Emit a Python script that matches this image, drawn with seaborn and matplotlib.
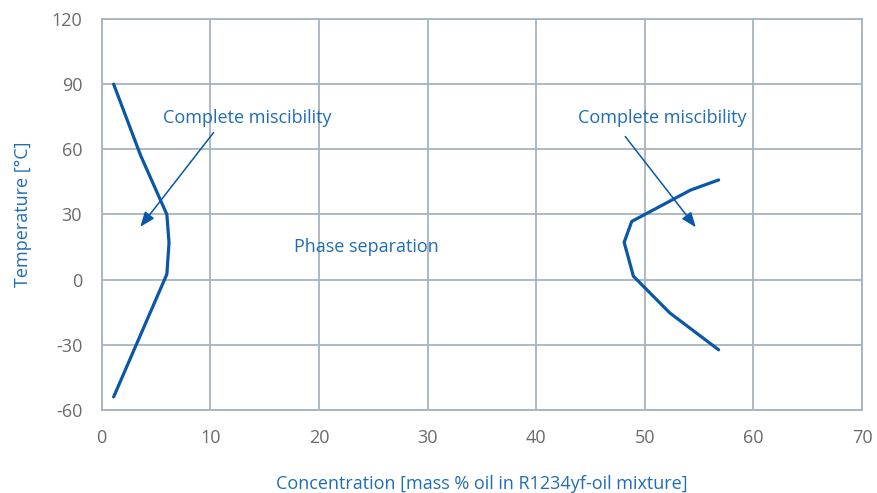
import pandas as pd
import seaborn as sns
import matplotlib.pyplot as plt

# =========================
# DATA
# =========================
left_conc = [1.1, 3.6, 6.0, 6.2, 6.0, 1.1]
left_temp = [90, 57, 30, 17, 2.5, -54]

right_conc = [56.8, 52.3, 48.95, 48.1, 48.8, 54.2, 56.8]
right_temp = [-32.3, -15.3, 1.6, 17.2, 26.8, 41.2, 45.9]

x_ticks = [0, 10, 20, 30, 40, 50, 60, 70]
y_ticks = [-60, -30, 0, 30, 60, 90, 120]

LINE = "#0a57a8"
TEXT = "#1f6db5"
GRID = "#a8b3be"
TICK = "#6b6b6b"

# =========================
# PLOT
# =========================
sns.set_style("white")
plt.rcParams["font.family"] = ["Open Sans", "DejaVu Sans"]
plt.rcParams["axes.unicode_minus"] = False

fig = plt.figure(figsize=(8.78, 4.93), dpi=100)
ax = fig.add_axes([0.1158, 0.1684, 0.866, 0.7931])

left = pd.DataFrame({"conc": left_conc, "temp": left_temp})
right = pd.DataFrame({"conc": right_conc, "temp": right_temp})
sns.lineplot(data=left, x="conc", y="temp", sort=False, estimator=None,
             color=LINE, lw=2.3, ax=ax)
sns.lineplot(data=right, x="conc", y="temp", sort=False, estimator=None,
             color=LINE, lw=2.3, ax=ax)

ax.set_xlim(0, 70)
ax.set_ylim(-60, 120)
ax.set_xticks(x_ticks)
ax.set_yticks(y_ticks)
ax.grid(True, color=GRID, lw=1.3)
ax.set_axisbelow(True)
for s in ax.spines.values():
    s.set_color(GRID)
    s.set_linewidth(1.3)
ax.tick_params(length=0, labelsize=13, colors=TICK, pad=14)

ax.set_xlabel("Concentration [mass % oil in R1234yf-oil mixture]", fontsize=13, color=TEXT, labelpad=20)
ax.set_ylabel("Temperature [°C]", fontsize=13, color=TEXT, labelpad=14)

# annotations
arrow = dict(arrowstyle="-|>,head_length=0.9,head_width=0.35", color=LINE, lw=1.1, shrinkA=0, shrinkB=0)
ax.text(13.4, 74.5, "Complete miscibility", fontsize=13, color=TEXT, ha="center", va="center")
ax.annotate("", xy=(3.55, 24.3), xytext=(10.3, 67.7), arrowprops=arrow)
ax.text(51.6, 74.5, "Complete miscibility", fontsize=13, color=TEXT, ha="center", va="center")
ax.annotate("", xy=(54.7, 24.1), xytext=(48.2, 65.9), arrowprops=arrow)
ax.text(24.4, 14.8, "Phase separation", fontsize=13, color=TEXT, ha="center", va="center")

plt.savefig("out.png", dpi=100)
plt.close()
